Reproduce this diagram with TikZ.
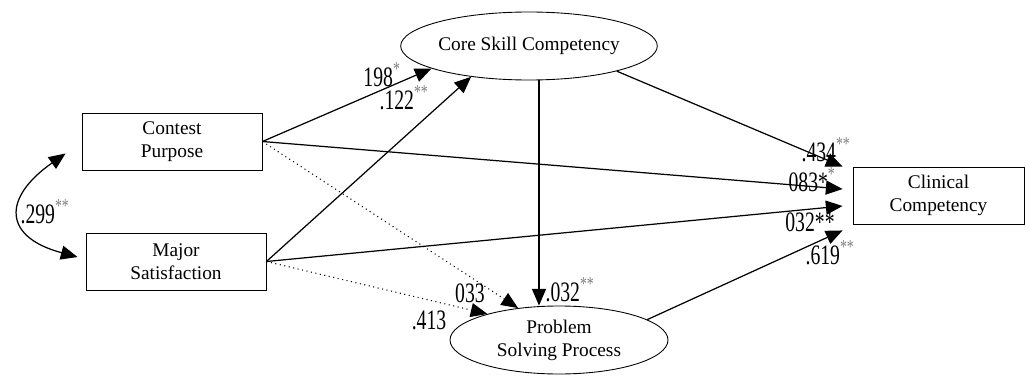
\documentclass[tikz,border=0pt]{standalone}
\usepackage{fontspec}
\setmainfont{Liberation Serif}
\usetikzlibrary{shapes.geometric,arrows.meta}
\newcommand\cnd[1]{\scalebox{0.7}[1]{#1}}
\newcommand\st[1]{\textsuperscript{\color{gray}#1}}

\begin{document}
\begin{tikzpicture}[>={Triangle[length=9.5pt,width=8pt]}, line width=0.7pt,
    every node/.style={font=\fontsize{11}{13}\selectfont},
    var/.style={draw,line width=0.5pt,minimum width=3.6cm,minimum height=1.14cm,align=center},
    latent/.style={ellipse,draw,line width=0.5pt,inner sep=0pt,minimum width=4.36cm,minimum height=1.36cm,align=center},
    coef/.style={font=\fontsize{16}{16}\selectfont,inner sep=0pt}]
    \useasboundingbox(0,0)rectangle(20.52,7.5);

    % variables
    \node(cp)[var]at(3.44,4.67){Contest\\Purpose};
    \node(ms)[var]at(3.52,2.27){Major\\Satisfaction};
    \node(core)[latent]at(10.58,6.58){Core Skill Competency};
    \node(psp)[latent]at(11.18,0.70){Problem\\Solving Process};
    \node(clin)[var,minimum width=3.42cm]at(18.77,3.59){Clinical\\Competency};

    % paths
    \draw[->](cp.east)--(core.193);
    \draw[->](ms.east)--(core.208);
    \draw[->](core.344)--([xshift=-2mm]clin.north west);
    \draw[->](cp.east)--([shift={(-2mm,1.3mm)}]clin.west);
    \draw[->](ms.east)--([shift={(-2mm,-2.1mm)}]clin.west);
    \draw[->](psp.13)--([shift={(-2mm,-1.2mm)}]clin.south west);
    \draw[->]([xshift=2mm]core.south)--([xshift=2mm]core.south|-psp.north);
    \draw[->,dotted,line width=0.6pt](cp.east)--(psp.142);
    \draw[->,dotted,line width=0.6pt](ms.east)--(psp.160);
    \draw[<->]([shift={(-3.2mm,-2.4mm)}]cp.west)to[out=215,in=165,looseness=1.9]([shift={(-1.6mm,0.9mm)}]ms.west);

    % coefficients
    \node(k1)[coef]at(7.64,6.0){\cnd{198\st{*}}};
    \node(k2)[coef]at(8.08,5.54){\cnd{.122\st{**}}};
    \node(k3)[coef]at(16.52,4.5){\cnd{.434\st{**}}};
    \node(k4)[coef]at(16.24,3.9){\cnd{083*\st{*}}};
    \node(k5)[coef]at(16.2,3.06){\cnd{032**}};
    \node(k6)[coef]at(16.6,2.44){\cnd{.619\st{**}}};
    \node(k7)[coef]at(11.4,1.7){\cnd{.032\st{**}}};
    \node(k8)[coef]at(9.4,1.64){\cnd{033}};
    \node(k9)[coef]at(8.58,1.1){\cnd{.413}};
    \node(k10)[coef]at(0.9,3.26){\cnd{.299\st{**}}};
\end{tikzpicture}
\end{document}
